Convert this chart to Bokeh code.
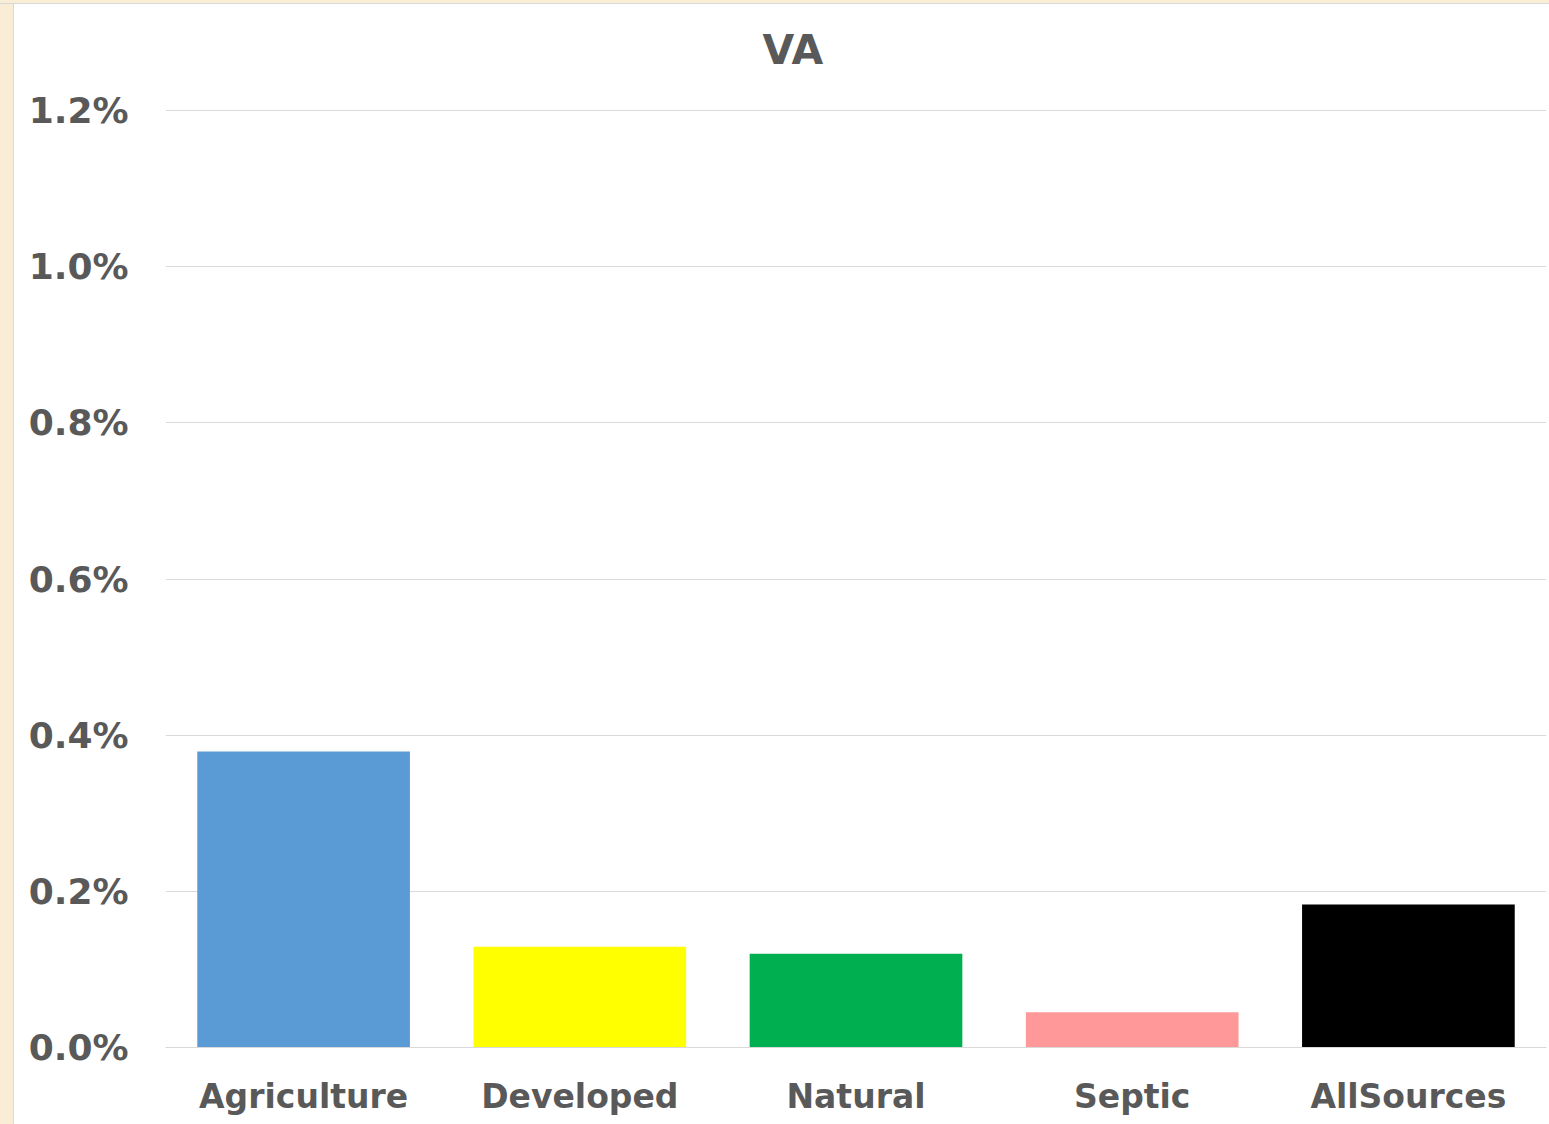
from bokeh.plotting import figure
from bokeh.models import FactorRange, FixedTicker, PrintfTickFormatter, ColumnDataSource, Div
from bokeh.layouts import row, column
from bokeh.embed import file_html
from bokeh.resources import INLINE

categories = ["Agriculture", "Developed", "Natural", "Septic", "AllSources"]
values_pct = [0.379, 0.129, 0.120, 0.045, 0.183]
colors = ["#5B9BD5", "#FFFF00", "#00B050", "#FF9999", "#000000"]
y_ticks = [0.0, 0.2, 0.4, 0.6, 0.8, 1.0, 1.2]

FONT = "DejaVu Sans"
TXT = "#595959"
PARCH = "#FAEDD5"
EDGE = "#D9D9D9"

source = ColumnDataSource(dict(cat=categories, val=values_pct, color=colors))

# plot frame extends a little above the 1.2% gridline (headroom below the title)
p = figure(width=1535, height=1120, output_backend="svg", toolbar_location=None,
           x_range=FactorRange(*categories, range_padding=0),
           y_range=(0, 1.241), title="VA")
p.border_fill_color = "white"
p.background_fill_color = "white"
p.outline_line_color = None
p.min_border_left = 151
p.min_border_right = 3
p.min_border_top = 74
p.min_border_bottom = 77

p.vbar(x="cat", top="val", width=0.77, color="color", source=source, line_color=None)

p.title.text_font = FONT
p.title.text_font_style = "bold"
p.title.text_font_size = "41px"
p.title.text_color = TXT
p.title.align = "left"
p.title.offset = 597
p.title.standoff = 10

p.yaxis.ticker = FixedTicker(ticks=y_ticks)
p.yaxis.formatter = PrintfTickFormatter(format="%.1f%%")
p.yaxis.axis_line_color = None
p.yaxis.major_tick_line_color = None
p.yaxis.minor_tick_line_color = None
p.yaxis.major_label_text_font = FONT
p.yaxis.major_label_text_font_style = "bold"
p.yaxis.major_label_text_font_size = "36px"
p.yaxis.major_label_text_color = TXT
p.yaxis.major_label_standoff = 31

p.xaxis.axis_line_color = EDGE
p.xaxis.major_tick_line_color = None
p.xaxis.minor_tick_line_color = None
p.xaxis.major_label_text_font = FONT
p.xaxis.major_label_text_font_style = "bold"
p.xaxis.major_label_text_font_size = "33px"
p.xaxis.major_label_text_color = TXT
p.xaxis.major_label_standoff = 23

p.xgrid.grid_line_color = None
p.ygrid.grid_line_color = EDGE
p.ygrid.grid_line_width = 1
p.ygrid.ticker = FixedTicker(ticks=y_ticks)

top_strip = Div(text="", width=1549, height=4,
                styles={"background": f"linear-gradient(to bottom, {PARCH} 3px, {EDGE} 3px)",
                        "margin": "0", "padding": "0"})
left_strip = Div(text="", width=14, height=1120,
                 styles={"background": f"linear-gradient(to right, {PARCH} 13px, {EDGE} 13px)",
                         "margin": "0", "padding": "0"})

layout = column(top_strip, row(left_strip, p, spacing=0), spacing=0)

open("out.html", "w").write(file_html(layout, INLINE))
